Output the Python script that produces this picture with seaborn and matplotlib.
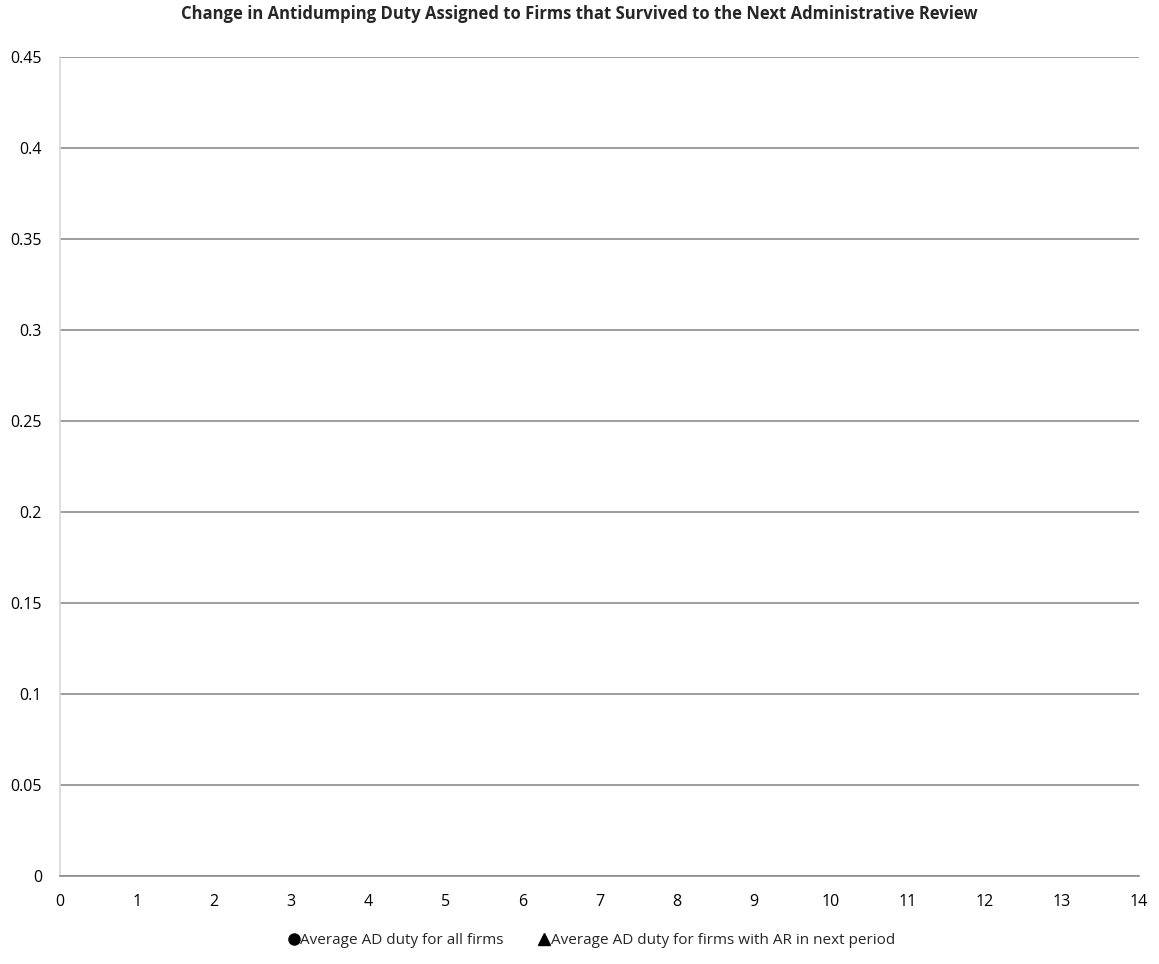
import matplotlib
matplotlib.use("Agg")
import matplotlib.pyplot as plt
import seaborn as sns
from matplotlib.font_manager import fontManager

# Review period vs. average antidumping duty (both series are empty in this chart)
periods_all = []
duty_all = []
periods_next = []
duty_next = []

series_labels = [
    "Average AD duty for all firms",
    "Average AD duty for firms with AR in next period",
]
title = "Change in Antidumping Duty Assigned to Firms that Survived to the Next Administrative Review"
x_ticks = list(range(0, 15))
y_ticks = [0, 0.05, 0.1, 0.15, 0.2, 0.25, 0.3, 0.35, 0.4, 0.45]
y_tick_labels = ["0", "0.05", "0.1", "0.15", "0.2", "0.25", "0.3", "0.35", "0.4", "0.45"]

sns.set_theme(style="white")
available = {f.name for f in fontManager.ttflist}
families = [f for f in ["Liberation Sans Narrow", "Open Sans", "DejaVu Sans"] if f in available]
plt.rcParams["font.family"] = families + ["DejaVu Sans"]

fig = plt.figure(figsize=(11.59, 9.64), dpi=100)
ax = fig.add_axes([0.0518, 0.0913, 0.9309, 0.8496])

sns.scatterplot(x=periods_all, y=duty_all, ax=ax, marker="o", color="black",
                s=80, label=series_labels[0], legend=False)
sns.scatterplot(x=periods_next, y=duty_next, ax=ax, marker="^", color="black",
                s=80, label=series_labels[1], legend=False)

ax.set_xlim(0, 14)
ax.set_ylim(0, 0.45)
ax.set_xticks(x_ticks)
ax.set_xticklabels([str(t) for t in x_ticks], fontsize=11.5)
ax.set_yticks(y_ticks)
ax.set_yticklabels(y_tick_labels, fontsize=11.5)

ax.yaxis.grid(True, color="#8c8c8c", linewidth=1.2)
ax.xaxis.grid(False)
for side in ["top", "right"]:
    ax.spines[side].set_visible(False)
ax.spines["left"].set_color("#d9d9d9")
ax.spines["left"].set_linewidth(1.2)
ax.spines["bottom"].set_color("#8c8c8c")
ax.spines["bottom"].set_linewidth(1.2)
ax.tick_params(axis="both", which="major", direction="out", length=5, width=1,
               color="#8c8c8c", labelcolor="black")
ax.tick_params(axis="x", pad=8)
ax.tick_params(axis="y", pad=8)

fig.suptitle(title, fontsize=12, fontweight="bold", x=0.5, y=0.995)

handles = [
    plt.Line2D([], [], linestyle="none", marker="o", color="black", markersize=8),
    plt.Line2D([], [], linestyle="none", marker="^", color="black", markersize=8),
]
fig.legend(handles, series_labels, loc="lower center", bbox_to_anchor=(0.51, 0.002),
           ncol=2, frameon=False, fontsize=11, handletextpad=0.05,
           handlelength=0.8, columnspacing=2.2)

fig.savefig("out.png", dpi=100, facecolor="white")
